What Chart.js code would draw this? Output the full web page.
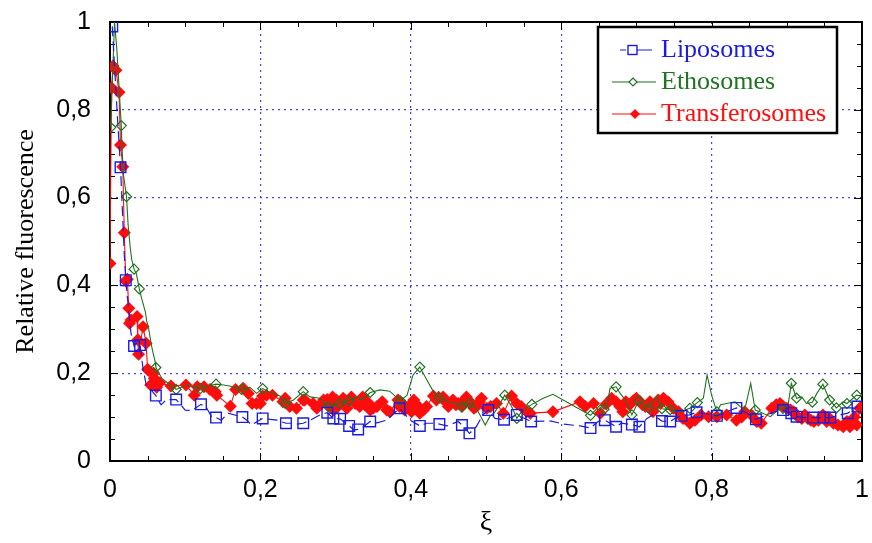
<!DOCTYPE html>
<html><head><meta charset="utf-8">
<script src="https://cdn.jsdelivr.net/npm/chart.js@4.4.1/dist/chart.umd.min.js"></script>
<style>html,body{margin:0;padding:0;background:#fff;overflow:hidden}</style>
</head><body>
<canvas id="chart" width="872" height="543"></canvas>
<script>
const seriesNames = ['Liposomes', 'Ethosomes', 'Transferosomes'];
const xTickValues = [0, 0.2, 0.4, 0.6, 0.8, 1];
const xTickLabels = ['0', '0,2', '0,4', '0,6', '0,8', '1'];
const yTickValues = [0, 0.2, 0.4, 0.6, 0.8, 1];
const yTickLabels = ['0', '0,2', '0,4', '0,6', '0,8', '1'];
const xTitle = 'ξ';
const yTitle = 'Relative fluorescence';
const minorStep = 0.05;

// Liposomes: marked points and unmarked line vertices [ξ, value]
const lipoMarkers = [[0.003,0.99],[0.014,0.669],[0.021,0.412],[0.032,0.262],[0.040,0.264],[0.061,0.149],[0.088,0.140],[0.121,0.129],[0.141,0.099],[0.176,0.100],[0.203,0.097],[0.234,0.086],[0.257,0.086],[0.289,0.110],[0.297,0.097],[0.306,0.096],[0.318,0.080],[0.330,0.072],[0.346,0.090],[0.385,0.120],[0.412,0.080],[0.438,0.084],[0.468,0.082],[0.478,0.063],[0.503,0.116],[0.524,0.094],[0.541,0.105],[0.560,0.090],[0.639,0.075],[0.658,0.093],[0.673,0.078],[0.694,0.083],[0.704,0.078],[0.734,0.091],[0.745,0.090],[0.760,0.103],[0.780,0.111],[0.807,0.103],[0.833,0.121],[0.859,0.095],[0.895,0.116],[0.906,0.109],[0.913,0.101],[0.935,0.099],[0.949,0.099],[0.958,0.099],[0.981,0.109],[0.994,0.124]];
const lipoLine = [[0.006,0.90],[0.010,0.78],[0.017,0.55],[0.019,0.47],[0.025,0.34],[0.028,0.29],[0.036,0.27],[0.044,0.21],[0.048,0.175],[0.053,0.165],[0.064,0.139],[0.068,0.128],[0.075,0.14],[0.100,0.116],[0.109,0.115],[0.128,0.122],[0.135,0.101],[0.148,0.093],[0.157,0.109],[0.182,0.093],[0.188,0.082],[0.213,0.095],[0.222,0.093],[0.242,0.086],[0.248,0.084],[0.266,0.093],[0.279,0.105],[0.324,0.071],[0.337,0.078],[0.355,0.087],[0.368,0.093],[0.399,0.093],[0.421,0.086],[0.430,0.086],[0.448,0.080],[0.463,0.090],[0.487,0.078],[0.496,0.105],[0.512,0.097],[0.587,0.091],[0.603,0.084],[0.625,0.080],[0.649,0.090],[0.665,0.086],[0.680,0.086],[0.714,0.097],[0.722,0.105],[0.751,0.097],[0.771,0.105],[0.793,0.107],[0.820,0.112],[0.847,0.109],[0.873,0.105],[0.884,0.112],[0.924,0.099],[0.971,0.105]];

// Ethosomes
const ethoMarkers = [[0.001,0.760],[0.015,0.764],[0.022,0.602],[0.032,0.437],[0.039,0.392],[0.061,0.213],[0.088,0.163],[0.120,0.165],[0.141,0.175],[0.175,0.163],[0.203,0.165],[0.233,0.131],[0.257,0.158],[0.290,0.124],[0.305,0.131],[0.318,0.137],[0.346,0.156],[0.386,0.137],[0.412,0.214],[0.438,0.144],[0.468,0.124],[0.478,0.131],[0.525,0.150],[0.541,0.097],[0.561,0.129],[0.639,0.104],[0.657,0.118],[0.673,0.169],[0.694,0.105],[0.703,0.137],[0.716,0.121],[0.734,0.119],[0.745,0.117],[0.771,0.120],[0.781,0.133],[0.807,0.112],[0.858,0.116],[0.895,0.120],[0.906,0.177],[0.913,0.143],[0.934,0.134],[0.948,0.175],[0.957,0.139],[0.966,0.121],[0.980,0.131],[0.993,0.150]];
const ethoLine = [[0.006,1.0],[0.009,0.94],[0.016,0.712],[0.018,0.651],[0.024,0.54],[0.027,0.484],[0.029,0.458],[0.035,0.427],[0.042,0.371],[0.047,0.34],[0.049,0.317],[0.051,0.306],[0.055,0.264],[0.060,0.226],[0.069,0.188],[0.080,0.173],[0.102,0.173],[0.131,0.171],[0.151,0.173],[0.164,0.169],[0.186,0.168],[0.195,0.154],[0.213,0.156],[0.226,0.148],[0.244,0.139],[0.266,0.146],[0.279,0.143],[0.328,0.146],[0.335,0.139],[0.359,0.162],[0.372,0.159],[0.395,0.150],[0.403,0.196],[0.419,0.192],[0.430,0.158],[0.450,0.135],[0.461,0.131],[0.487,0.120],[0.492,0.105],[0.499,0.082],[0.505,0.101],[0.512,0.112],[0.534,0.124],[0.547,0.112],[0.576,0.143],[0.589,0.152],[0.652,0.128],[0.660,0.120],[0.665,0.166],[0.678,0.155],[0.685,0.140],[0.714,0.124],[0.727,0.146],[0.758,0.112],[0.789,0.143],[0.794,0.196],[0.800,0.150],[0.812,0.128],[0.820,0.131],[0.831,0.135],[0.838,0.124],[0.844,0.116],[0.852,0.177],[0.864,0.112],[0.878,0.101],[0.891,0.120],[0.902,0.131],[0.920,0.146],[0.926,0.131],[0.940,0.154],[0.975,0.135],[0.999,0.148]];

// Transferosomes (every point marked)
const transMarkers = [[0.000,0.45],[0.002,0.85],[0.004,0.90],[0.008,0.89],[0.012,0.84],[0.014,0.72],[0.017,0.67],[0.019,0.52],[0.021,0.41],[0.023,0.414],[0.025,0.348],[0.026,0.314],[0.028,0.321],[0.036,0.329],[0.037,0.276],[0.038,0.243],[0.044,0.306],[0.048,0.268],[0.050,0.209],[0.051,0.207],[0.054,0.173],[0.058,0.200],[0.059,0.188],[0.062,0.168],[0.066,0.178],[0.081,0.171],[0.101,0.173],[0.112,0.150],[0.116,0.169],[0.125,0.169],[0.133,0.163],[0.140,0.158],[0.142,0.150],[0.160,0.125],[0.167,0.163],[0.177,0.166],[0.184,0.154],[0.189,0.131],[0.195,0.131],[0.200,0.131],[0.203,0.148],[0.208,0.150],[0.216,0.150],[0.230,0.135],[0.233,0.143],[0.239,0.124],[0.248,0.120],[0.257,0.139],[0.259,0.139],[0.270,0.131],[0.275,0.120],[0.280,0.128],[0.284,0.139],[0.289,0.140],[0.290,0.128],[0.293,0.135],[0.296,0.146],[0.297,0.116],[0.301,0.139],[0.303,0.124],[0.306,0.131],[0.310,0.143],[0.313,0.137],[0.315,0.120],[0.318,0.137],[0.321,0.146],[0.324,0.139],[0.326,0.131],[0.332,0.124],[0.336,0.146],[0.339,0.128],[0.343,0.133],[0.346,0.116],[0.350,0.120],[0.355,0.124],[0.362,0.135],[0.368,0.116],[0.372,0.112],[0.383,0.139],[0.385,0.124],[0.389,0.131],[0.392,0.116],[0.397,0.124],[0.401,0.112],[0.404,0.139],[0.408,0.128],[0.412,0.109],[0.417,0.116],[0.421,0.124],[0.430,0.148],[0.434,0.139],[0.437,0.145],[0.443,0.146],[0.447,0.133],[0.450,0.124],[0.456,0.139],[0.460,0.128],[0.463,0.131],[0.468,0.124],[0.471,0.139],[0.474,0.146],[0.478,0.135],[0.481,0.131],[0.484,0.120],[0.487,0.124],[0.491,0.135],[0.494,0.143],[0.501,0.120],[0.506,0.124],[0.514,0.131],[0.523,0.109],[0.534,0.148],[0.541,0.131],[0.547,0.124],[0.554,0.112],[0.559,0.109],[0.589,0.112],[0.625,0.135],[0.632,0.124],[0.643,0.131],[0.652,0.109],[0.660,0.130],[0.667,0.143],[0.673,0.135],[0.678,0.124],[0.682,0.112],[0.686,0.135],[0.691,0.128],[0.696,0.137],[0.700,0.143],[0.705,0.135],[0.708,0.128],[0.712,0.124],[0.718,0.135],[0.722,0.112],[0.726,0.128],[0.729,0.139],[0.732,0.131],[0.736,0.143],[0.742,0.135],[0.749,0.120],[0.756,0.112],[0.762,0.097],[0.771,0.086],[0.778,0.093],[0.786,0.105],[0.796,0.101],[0.807,0.101],[0.820,0.105],[0.833,0.093],[0.840,0.100],[0.844,0.112],[0.853,0.105],[0.860,0.090],[0.866,0.086],[0.880,0.120],[0.886,0.128],[0.891,0.131],[0.895,0.124],[0.900,0.120],[0.905,0.116],[0.909,0.112],[0.915,0.100],[0.920,0.097],[0.924,0.105],[0.928,0.097],[0.932,0.093],[0.936,0.090],[0.942,0.093],[0.948,0.105],[0.953,0.090],[0.957,0.097],[0.962,0.086],[0.968,0.082],[0.975,0.078],[0.980,0.090],[0.984,0.078],[0.990,0.100],[0.993,0.082],[0.997,0.120],[1.000,0.124]];
const transLine = [];

const BLUE = '#1c1ce0', GREEN = '#217321', RED = '#ff0d0d', GRID = '#4646e6';

function merge(markers, line) {
  return markers.map(([x, y]) => ({x, y, m: true}))
    .concat(line.map(([x, y]) => ({x, y, m: false})))
    .sort((a, b) => a.x - b.x);
}

function makeIcon(kind) {
  const c = document.createElement('canvas');
  c.width = 52; c.height = 16;
  const g = c.getContext('2d');
  const cy = 8;
  g.lineWidth = 1.2;
  if (kind === 0) {
    g.strokeStyle = BLUE;
    g.beginPath(); g.moveTo(16, cy); g.lineTo(22, cy); g.moveTo(33, cy); g.lineTo(48, cy); g.stroke();
    g.lineWidth = 1.4; g.strokeRect(24, cy - 4.5, 9, 9);
  } else if (kind === 1) {
    g.strokeStyle = GREEN;
    g.beginPath(); g.moveTo(8, cy); g.lineTo(52, cy); g.stroke();
    g.fillStyle = '#fff';
    g.beginPath(); g.moveTo(29, cy - 4); g.lineTo(33, cy); g.lineTo(29, cy + 4); g.lineTo(25, cy); g.closePath();
    g.fill(); g.stroke();
  } else {
    g.strokeStyle = RED; g.fillStyle = RED;
    g.beginPath(); g.moveTo(8, cy); g.lineTo(52, cy); g.stroke();
    g.beginPath(); g.moveTo(31, cy - 5); g.lineTo(36, cy); g.lineTo(31, cy + 5); g.lineTo(26, cy); g.closePath();
    g.fill();
  }
  return c;
}
const legendIcons = [makeIcon(0), makeIcon(1), makeIcon(2)];

const framePlugin = {
  id: 'frame',
  beforeDatasetsDraw(chart) {
    const {ctx, chartArea: a, scales} = chart;
    const xs = scales.x, ys = scales.y;
    ctx.save();
    ctx.strokeStyle = '#000';
    ctx.lineWidth = 1;
    const n = Math.round(1 / minorStep);
    ctx.beginPath();
    for (let i = 0; i <= n; i++) {
      const v = i * minorStep;
      const major = xTickValues.some(t => Math.abs(t - v) < 1e-9);
      const len = major ? 8 : 5;
      const px = Math.round(xs.getPixelForValue(v)) + 0.5;
      const py = Math.round(ys.getPixelForValue(v)) + 0.5;
      ctx.moveTo(px, a.bottom); ctx.lineTo(px, a.bottom - len);
      ctx.moveTo(px, a.top); ctx.lineTo(px, a.top + len);
      ctx.moveTo(a.left, py); ctx.lineTo(a.left + len, py);
      ctx.moveTo(a.right, py); ctx.lineTo(a.right - len, py);
    }
    ctx.stroke();
    ctx.lineWidth = 2;
    ctx.strokeRect(a.left, a.top, a.right - a.left, a.bottom - a.top);
    ctx.restore();
  }
};

const legendPlugin = {
  id: 'legendBox',
  afterLayout(chart) {
    const lg = chart.legend, a = chart.chartArea;
    if (!lg) return;
    lg.left = a.right - 256;
    lg.top = a.top + 9;
    lg.right = a.right;
    lg.bottom = a.top + 140;
  },
  afterDraw(chart) {
    const {ctx, chartArea: a} = chart;
    ctx.save();
    ctx.fillStyle = '#fff';
    ctx.fillRect(a.right - 264, a.top + 5, 239, 106);
    ctx.strokeStyle = '#000';
    ctx.lineWidth = 2.5;
    ctx.strokeRect(a.right - 264, a.top + 5, 239, 106);
    ctx.restore();
    chart.legend.draw();
  }
};

const zeroPadding = s => { s.paddingLeft = 0; s.paddingRight = 0; s.paddingTop = 0; s.paddingBottom = 0; };
const tickFont = {family: 'Liberation Sans', size: 25};
const titleFont = {family: 'Liberation Serif', size: 26};

new Chart(document.getElementById('chart'), {
  type: 'line',
  data: {
    datasets: [
      {
        label: seriesNames[0], data: merge(lipoMarkers, lipoLine),
        borderColor: BLUE, backgroundColor: BLUE, borderWidth: 1.2, borderDash: [10, 5],
        pointStyle: 'rect', pointRadius: c => (c.raw && c.raw.m ? 7.5 : 0),
        pointBorderColor: BLUE, pointBackgroundColor: 'rgba(255,255,255,0)', pointBorderWidth: 1.4,
        tension: 0
      },
      {
        label: seriesNames[1], data: merge(ethoMarkers, ethoLine),
        borderColor: GREEN, backgroundColor: GREEN, borderWidth: 1.1,
        pointStyle: 'rectRot', pointRadius: c => (c.raw && c.raw.m ? 5 : 0),
        pointBorderColor: GREEN, pointBackgroundColor: 'rgba(255,255,255,0)', pointBorderWidth: 1.2,
        tension: 0
      },
      {
        label: seriesNames[2], data: merge(transMarkers, transLine),
        borderColor: RED, backgroundColor: RED, borderWidth: 1.1,
        pointStyle: 'rectRot', pointRadius: c => (c.raw && c.raw.m ? 6.5 : 0),
        pointBorderColor: RED, pointBackgroundColor: RED, pointBorderWidth: 0,
        tension: 0
      }
    ]
  },
  options: {
    responsive: false,
    animation: false,
    events: [],
    layout: {padding: {left: 0, right: 10, top: 22, bottom: 0}},
    plugins: {
      tooltip: {enabled: false},
      legend: {
        position: 'chartArea',
        align: 'start',
        labels: {
          usePointStyle: true,
          pointStyleWidth: 36,
          padding: 6,
          font: {family: 'Liberation Serif', size: 26},
          generateLabels: chart => chart.data.datasets.map((ds, i) => ({
            text: ds.label,
            fontColor: ds.borderColor,
            fillStyle: ds.backgroundColor,
            strokeStyle: ds.borderColor,
            lineWidth: 0,
            pointStyle: legendIcons[i],
            hidden: false,
            datasetIndex: i
          }))
        }
      }
    },
    scales: {
      x: {
        type: 'linear', min: 0, max: 1,
        afterBuildTicks: s => { s.ticks = xTickValues.map(v => ({value: v})); },
        afterFit: s => { s.height = 82; zeroPadding(s); },
        ticks: {callback: (v, i) => xTickLabels[i], font: tickFont, color: '#000', padding: 14, maxRotation: 0, autoSkip: false},
        grid: {color: GRID, lineWidth: 1.2, drawTicks: false, borderDash: [2, 4]},
        border: {display: false, dash: [2, 4]},
        title: {display: true, text: xTitle, font: {family: 'Liberation Serif', size: 28}, color: '#000', padding: {top: 0, bottom: 4}}
      },
      y: {
        type: 'linear', min: 0, max: 1,
        afterBuildTicks: s => { s.ticks = yTickValues.map(v => ({value: v})); },
        afterFit: s => { s.width = 110; zeroPadding(s); },
        ticks: {callback: (v, i) => yTickLabels[i], font: tickFont, color: '#000', padding: 19, autoSkip: false},
        grid: {color: GRID, lineWidth: 1.2, drawTicks: false, borderDash: [2, 4]},
        border: {display: false, dash: [2, 4]},
        title: {display: true, text: yTitle, font: titleFont, color: '#000', padding: {top: 11, bottom: 0}}
      }
    }
  },
  plugins: [framePlugin, legendPlugin]
});
</script>
</body></html>
